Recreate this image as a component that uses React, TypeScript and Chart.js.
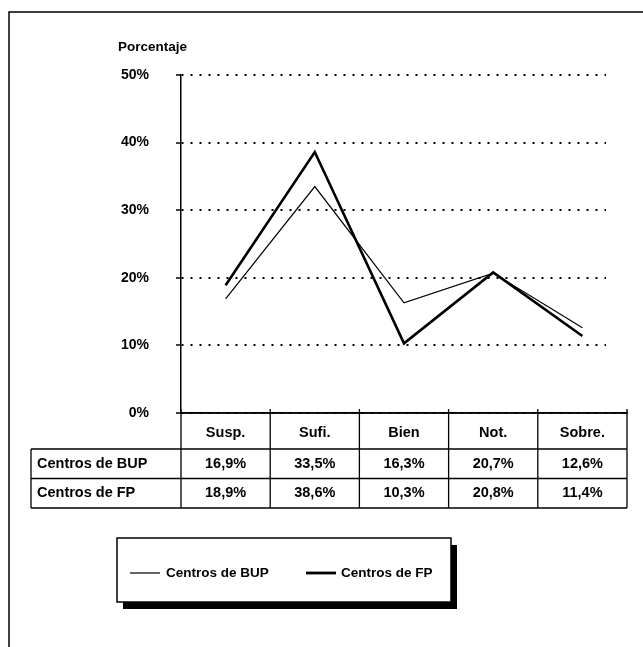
import React, { useEffect, useRef } from "react";
import { Chart, registerables } from "chart.js";

Chart.register(...registerables);

const categories = ["Susp.", "Sufi.", "Bien", "Not.", "Sobre."];
const seriesNames = ["Centros de BUP", "Centros de FP"];
const bupValues = [16.9, 33.5, 16.3, 20.7, 12.6];
const fpValues = [18.9, 38.6, 10.3, 20.8, 11.4];
const bupLabels = ["16,9%", "33,5%", "16,3%", "20,7%", "12,6%"];
const fpLabels = ["18,9%", "38,6%", "10,3%", "20,8%", "11,4%"];
const yTitle = "Porcentaje";

const FONT = '"Liberation Sans", Arial, sans-serif';

const gridTrimPlugin = {
  id: "gridTrim",
  beforeDatasetsDraw(chart: any) {
    const ctx = chart.ctx;
    const area = chart.chartArea;
    ctx.save();
    ctx.fillStyle = "#fff";
    ctx.fillRect(606, area.top - 3, area.right - 606 + 2, area.bottom - area.top - 1);
    ctx.restore();
  },
};

const decorPlugin = {
  id: "decor",
  afterDraw(chart: any) {
    const ctx = chart.ctx;
    const xs = chart.scales.x;
    const area = chart.chartArea;
    ctx.save();
    ctx.strokeStyle = "#000";
    ctx.fillStyle = "#000";

    // outer frame
    ctx.lineWidth = 1.5;
    ctx.beginPath();
    ctx.moveTo(9, 647);
    ctx.lineTo(9, 12);
    ctx.lineTo(643, 12);
    ctx.stroke();

    // axis title
    ctx.font = "bold 13.5px " + FONT;
    ctx.textAlign = "left";
    ctx.textBaseline = "middle";
    ctx.fillText(yTitle, 118, 47);

    // table
    const step = xs.getPixelForValue(1) - xs.getPixelForValue(0);
    const hw = step / 2;
    const left0 = xs.getPixelForValue(0) - hw;
    const rightN = xs.getPixelForValue(categories.length - 1) + hw;
    const labelLeft = 31;
    const yTop = area.bottom;
    const yH = yTop + 36;
    const yR1 = yH + 29.5;
    const yR2 = yR1 + 29.5;
    ctx.lineWidth = 1.3;
    ctx.beginPath();
    ctx.moveTo(left0, yTop);
    ctx.lineTo(rightN, yTop);
    ctx.moveTo(labelLeft, yH);
    ctx.lineTo(rightN, yH);
    ctx.moveTo(labelLeft, yR1);
    ctx.lineTo(rightN, yR1);
    ctx.moveTo(labelLeft, yR2);
    ctx.lineTo(rightN, yR2);
    ctx.moveTo(labelLeft, yH);
    ctx.lineTo(labelLeft, yR2);
    for (let i = 0; i <= categories.length; i++) {
      const x = left0 + i * step;
      ctx.moveTo(x, yTop);
      ctx.lineTo(x, yR2);
      ctx.moveTo(x, yTop);
      ctx.lineTo(x, yTop - 4);
    }
    ctx.stroke();

    ctx.font = "bold 14.5px " + FONT;
    ctx.textAlign = "center";
    ctx.textBaseline = "middle";
    categories.forEach((c, i) => {
      const cx = xs.getPixelForValue(i);
      ctx.fillText(c, cx, (yTop + yH) / 2 + 2);
      ctx.fillText(bupLabels[i], cx, (yH + yR1) / 2);
      ctx.fillText(fpLabels[i], cx, (yR1 + yR2) / 2);
    });
    ctx.textAlign = "left";
    ctx.fillText(seriesNames[0], 37, (yH + yR1) / 2);
    ctx.fillText(seriesNames[1], 37, (yR1 + yR2) / 2);

    // legend box with shadow
    const lx = 117, ly = 538, lw = 334, lh = 64;
    ctx.fillRect(lx + 6, ly + 7, lw, lh);
    ctx.fillStyle = "#fff";
    ctx.fillRect(lx, ly, lw, lh);
    ctx.fillStyle = "#000";
    ctx.lineWidth = 1.5;
    ctx.strokeRect(lx, ly, lw, lh);
    const my = ly + lh / 2 + 3;
    ctx.lineWidth = 1.2;
    ctx.beginPath();
    ctx.moveTo(130, my);
    ctx.lineTo(160, my);
    ctx.stroke();
    ctx.lineWidth = 2.8;
    ctx.beginPath();
    ctx.moveTo(306, my);
    ctx.lineTo(336, my);
    ctx.stroke();
    ctx.font = "bold 13.5px " + FONT;
    ctx.textAlign = "left";
    ctx.textBaseline = "middle";
    ctx.fillText(seriesNames[0], 166, my);
    ctx.fillText(seriesNames[1], 341, my);

    ctx.restore();
  },
};

export default function App() {
  const ref = useRef<HTMLCanvasElement | null>(null);
  useEffect(() => {
    if (!ref.current) return;
    const chart = new Chart(ref.current, {
      type: "line",
      data: {
        labels: categories,
        datasets: [
          {
            label: seriesNames[0],
            data: bupValues,
            borderColor: "#000",
            borderWidth: 1.2,
            pointRadius: 0,
            tension: 0,
            fill: false,
          },
          {
            label: seriesNames[1],
            data: fpValues,
            borderColor: "#000",
            borderWidth: 2.6,
            pointRadius: 0,
            tension: 0,
            fill: false,
          },
        ],
      },
      options: {
        responsive: false,
        animation: false,
        devicePixelRatio: 1,
        layout: { padding: { top: 75, right: 16, left: 0, bottom: 0 } },
        plugins: {
          legend: { display: false },
          tooltip: { enabled: false },
          title: { display: false },
        },
        scales: {
          x: {
            type: "category",
            offset: true,
            grid: { display: false },
            ticks: { display: false },
            border: { display: true, color: "#000", width: 1.5 },
            afterFit: (s: any) => {
              s.height = 234;
            },
          },
          y: {
            min: 0,
            max: 50,
            ticks: {
              stepSize: 10,
              color: "#000",
              padding: 27,
              font: { family: FONT, size: 14, weight: "bold" },
              callback: (v: any) => v + "%",
            },
            grid: {
              color: "#000",
              lineWidth: 2,
              drawTicks: true,
              tickLength: 5,
              tickColor: "#000",
              tickWidth: 1.5,
              tickBorderDash: [],
            },
            border: { display: true, color: "#000", width: 1.5, dash: [2, 7] },
            afterFit: (s: any) => {
              s.width = 181;
            },
          },
        },
      },
      plugins: [gridTrimPlugin, decorPlugin],
    });
    return () => chart.destroy();
  }, []);
  return (
    <div style={{ position: "absolute", left: 0, top: 0, width: 643, height: 647, background: "#fff" }}>
      <canvas ref={ref} width={643} height={647} style={{ display: "block" }} />
    </div>
  );
}
